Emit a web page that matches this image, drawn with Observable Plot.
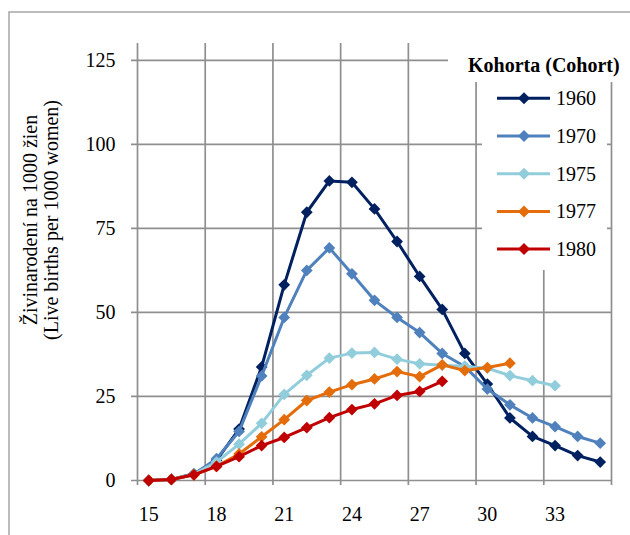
<!DOCTYPE html>
<html><head><meta charset="utf-8">
<script src="https://cdn.jsdelivr.net/npm/d3@7"></script>
<script src="https://cdn.jsdelivr.net/npm/@observablehq/plot@0.6"></script>
<style>html,body{margin:0;padding:0;background:#fff}#chart{width:630px;height:535px;overflow:hidden}</style>
</head><body><div id="chart"></div>
<script>
const ages = [15,16,17,18,19,20,21,22,23,24,25,26,27,28,29,30,31,32,33,34,35];
const cohorts = ["1960","1970","1975","1977","1980"];
const colors = ["#002060","#4f81bd","#92cddc","#e46c0a","#c00000"];
const v1960 = [0, 0.3, 2.0, 6.0, 15.3, 33.8, 58.2, 79.8, 89.1, 88.7, 80.8, 71.1, 60.7, 50.9, 37.8, 28.7, 18.6, 13.1, 10.4, 7.4, 5.5];
const v1970 = [0, 0.3, 1.8, 6.5, 14.6, 31.1, 48.5, 62.5, 69.2, 61.5, 53.6, 48.5, 44.0, 37.8, 33.9, 27.2, 22.5, 18.6, 16.0, 13.1, 11.1];
const v1975 = [0, 0.3, 1.9, 5.5, 10.8, 17.0, 25.6, 31.3, 36.4, 37.9, 38.1, 36.1, 34.7, 34.3, 34.0, 33.4, 31.2, 29.7, 28.2];
const v1977 = [0, 0.3, 1.7, 4.2, 7.9, 13.0, 18.1, 23.8, 26.3, 28.5, 30.2, 32.4, 30.9, 34.4, 32.7, 33.6, 34.9];
const v1980 = [0, 0.3, 1.7, 4.2, 7.1, 10.4, 12.8, 15.7, 18.7, 21.1, 22.8, 25.3, 26.5, 29.5];
const yTicks = [0, 25, 50, 75, 100, 125];
const xTicks = [15, 18, 21, 24, 27, 30, 33];
const legendTitle = "Kohorta (Cohort)";
const yLabel1 = "Živinarodení na 1000 žien";
const yLabel2 = "(Live births per 1000 women)";

const series = [v1960, v1970, v1975, v1977, v1980];
const rows = cohorts.flatMap((c, k) => series[k].map((v, i) => ({cohort: c, age: ages[i], value: v})));
// category boundaries every 3 categories (Excel-style gridlines between categories)
const xGrid = ages.filter((a, i) => i % 3 === 0).map(a => a - 0.5).concat([ages[ages.length - 1] + 0.5]);

const F = '"Liberation Serif","Times New Roman",serif';
const grid = "#8f8f8f";

const plot = Plot.plot({
  width: 630, height: 535,
  marginLeft: 137, marginRight: 19, marginTop: 43, marginBottom: 55,
  style: {fontFamily: F, fontSize: "20px", color: "#000", background: "#fff", overflow: "hidden"},
  x: {type: "linear", domain: [ages[0] - 0.5, ages[ages.length - 1] + 0.5]},
  y: {domain: [0, 130]},
  color: {domain: cohorts, range: colors},
  marks: [
    Plot.ruleY(yTicks, {stroke: grid, strokeWidth: 1.7, insetLeft: -6}),
    Plot.ruleX(xGrid, {stroke: grid, strokeWidth: 1.7, insetBottom: -5}),
    Plot.axisY({ticks: yTicks, tickSize: 0, tickPadding: 22, label: null, tickFormat: d => String(d)}),
    Plot.axisX({ticks: xTicks, tickSize: 0, tickPadding: 26, label: null, tickFormat: d => String(d)}),
    ...cohorts.flatMap(c => {
      const d = rows.filter(r => r.cohort === c);
      return [
        Plot.line(d, {x: "age", y: "value", stroke: "cohort", strokeWidth: 3, strokeLinejoin: "round"}),
        Plot.dot(d, {x: "age", y: "value", fill: "cohort", symbol: "diamond2", r: 5.3})
      ];
    })
  ]
});
document.getElementById("chart").appendChild(plot);

const svg = d3.select(plot);
// outer chart border
svg.append("rect").attr("x", 9).attr("y", 12).attr("width", 700).attr("height", 600)
  .attr("fill", "none").attr("stroke", "#a6a6a6").attr("stroke-width", 1.5);
// legend title box and legend box
svg.append("rect").attr("x", 448).attr("y", 42).attr("width", 190).attr("height", 40).attr("fill", "#fff");
svg.append("rect").attr("x", 482).attr("y", 82).attr("width", 125).attr("height", 188).attr("fill", "#fff");
svg.append("text").attr("x", 468).attr("y", 71.5).attr("text-anchor", "start").attr("font-family", F)
  .attr("font-size", 20).attr("font-weight", "bold").attr("fill", "#000").text(legendTitle);
cohorts.forEach((c, k) => {
  const y = 98.3 + k * 37.7;
  const g = svg.append("g");
  g.append("line").attr("x1", 497).attr("x2", 550).attr("y1", y).attr("y2", y)
    .attr("stroke", colors[k]).attr("stroke-width", 3);
  g.append("path").attr("d", `M524,${y - 6}L530,${y}L524,${y + 6}L518,${y}Z`).attr("fill", colors[k]);
  g.append("text").attr("x", 556).attr("y", y).attr("dy", "0.35em").attr("text-anchor", "start")
    .attr("font-family", F).attr("font-size", 20).attr("fill", "#000").text(c);
});
// y axis title (two lines, rotated)
[[yLabel1, 37], [yLabel2, 58]].forEach(([t, x]) => {
  svg.append("text").attr("transform", `translate(${x},220) rotate(-90)`).attr("text-anchor", "middle")
    .attr("font-family", F).attr("font-size", 20).attr("fill", "#000").text(t);
});
</script>
</body></html>
